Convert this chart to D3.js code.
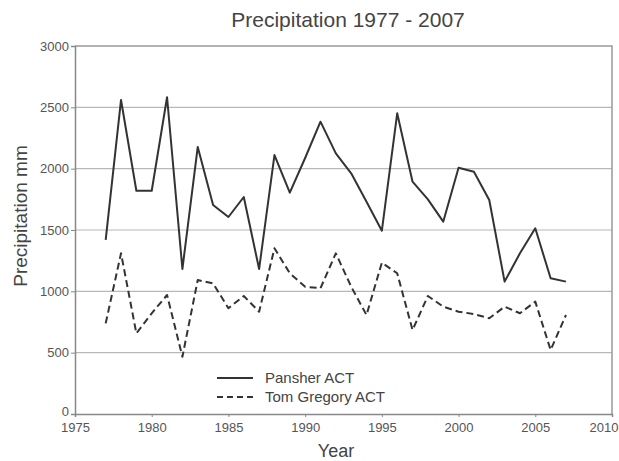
<!DOCTYPE html>
<html>
<head>
<meta charset="utf-8">
<script src="https://cdn.jsdelivr.net/npm/d3@7"></script>
<style>
  html, body { margin: 0; padding: 0; background: #fff; }
  svg { display: block; font-family: "Liberation Sans", Arial, sans-serif; }
</style>
</head>
<body>
<svg id="chart" width="619" height="461"></svg>
<script>
// Annual precipitation (mm), 1977 - 2007
const years = d3.range(1977, 2008);
const pansher = [1420, 2560, 1820, 1820, 2582, 1182, 2177, 1704, 1606, 1769,
                 1182, 2111, 1804, 2087, 2383, 2125, 1962, 1731, 1494, 2451,
                 1894, 1750, 1568, 2008, 1975, 1745, 1079, 1310, 1514, 1106, 1079];
const tomGregory = [739, 1310, 658, 821, 970, 467, 1092, 1065, 862, 962,
                    834, 1351, 1147, 1038, 1025, 1310, 1038, 807, 1234, 1147,
                    685, 962, 875, 834, 815, 780, 875, 821, 916, 522, 807];
const xTicks = [1975, 1980, 1985, 1990, 1995, 2000, 2005, 2010];
const yTicks = [0, 500, 1000, 1500, 2000, 2500, 3000];
const seriesNames = ["Pansher ACT", "Tom Gregory ACT"];

const svg = d3.select("#chart");
const margin = { left: 75, right: 7, top: 46, bottom: 47 };
const W = 619, H = 461;

const x = d3.scaleLinear().domain([1975, 2010]).range([margin.left, W - margin.right]);
const y = d3.scaleLinear().domain([0, 3000]).range([H - margin.bottom, margin.top]);

// horizontal grid
svg.append("g")
  .selectAll("line")
  .data(yTicks.filter(t => t > 0 && t < 3000))
  .join("line")
  .attr("x1", x(1975)).attr("x2", x(2010))
  .attr("y1", d => y(d)).attr("y2", d => y(d))
  .attr("stroke", "#b8b8b8").attr("stroke-width", 1.2);

// frame top and right
svg.append("path")
  .attr("d", `M${x(1975)},${y(3000)}H${x(2010)}V${y(0)}`)
  .attr("fill", "none").attr("stroke", "#999").attr("stroke-width", 1.5);

// axes
const xAxis = svg.append("g")
  .attr("transform", `translate(0,${y(0)})`)
  .call(d3.axisBottom(x).tickValues(xTicks).tickFormat(d3.format("d")).tickSize(3));
const yAxis = svg.append("g")
  .attr("transform", `translate(${x(1975)},0)`)
  .call(d3.axisLeft(y).tickValues(yTicks).tickFormat(d3.format("d")).tickSize(4).tickPadding(2));
[xAxis, yAxis].forEach(g => {
  g.select(".domain").attr("stroke", "#888").attr("stroke-width", 1.5);
  g.selectAll(".tick line").attr("stroke", "#888");
  g.selectAll("text").attr("fill", "#555").style("font-size", "13px");
});
xAxis.selectAll("text").attr("dy", "0.9em");
// lift the zero label clear of the first year label
yAxis.selectAll(".tick").filter(d => d === 0).select("text").attr("dy", "0.1em");
// keep the last year label inside the page
xAxis.selectAll(".tick").filter(d => d === 2010).select("text")
  .attr("text-anchor", "end").attr("x", W - 1 - x(2010));

// series lines
const line = d3.line().x((d, i) => x(years[i])).y(d => y(d));
svg.append("path").datum(pansher)
  .attr("d", line).attr("fill", "none")
  .attr("stroke", "#333").attr("stroke-width", 2).attr("stroke-linejoin", "round");
svg.append("path").datum(tomGregory)
  .attr("d", line).attr("fill", "none")
  .attr("stroke", "#333").attr("stroke-width", 2).attr("stroke-dasharray", "7,4")
  .attr("stroke-linejoin", "round");

// titles
svg.append("text").attr("x", 348).attr("y", 27).attr("text-anchor", "middle")
  .attr("fill", "#444").style("font-size", "21px").text("Precipitation 1977 - 2007");
svg.append("text").attr("x", 336).attr("y", 457).attr("text-anchor", "middle")
  .attr("fill", "#444").style("font-size", "18px").text("Year");
svg.append("text").attr("transform", "translate(27,216) rotate(-90)")
  .attr("text-anchor", "middle")
  .attr("fill", "#444").style("font-size", "19px").text("Precipitation  mm");

// legend
const legend = svg.append("g").attr("transform", "translate(217,378)");
const dashes = [null, "6,4"];
seriesNames.forEach((name, i) => {
  const g = legend.append("g").attr("transform", `translate(0,${i * 19})`);
  g.append("line").attr("x1", 0).attr("x2", 36).attr("y1", 0).attr("y2", 0)
    .attr("stroke", "#333").attr("stroke-width", 2)
    .attr("stroke-dasharray", dashes[i]);
  g.append("text").attr("x", 48).attr("y", 0).attr("dy", "0.35em")
    .attr("fill", "#444").style("font-size", "15px").text(name);
});
</script>
</body>
</html>
